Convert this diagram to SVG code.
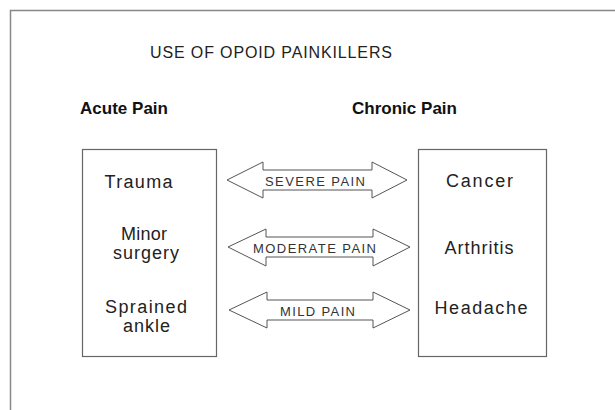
<svg xmlns="http://www.w3.org/2000/svg" width="615" height="410" viewBox="0 0 615 410">
<style>
text{font-family:"Liberation Sans",Arial,sans-serif;fill:#222}
.t{font-size:16px}
.h{font-size:17px;font-weight:bold;fill:#111}
.n{font-size:18px;text-anchor:middle}
.a{font-size:13px;text-anchor:middle;fill:#333}
.box{fill:#fff;stroke:#666;stroke-width:1.2}
.arr{fill:#fff;stroke:#555;stroke-width:1}
</style>
<rect width="615" height="410" fill="#fff"/>
<path d="M10.5 420 V10.5 H625" fill="none" stroke="#888" stroke-width="1.5"/>
<text class="t" x="150" y="58" textLength="242" lengthAdjust="spacing">USE OF OPOID PAINKILLERS</text>
<text class="h" x="80" y="114" textLength="88" lengthAdjust="spacing">Acute Pain</text>
<text class="h" x="352" y="114" textLength="105" lengthAdjust="spacing">Chronic Pain</text>
<g id="acute">
<rect class="box" x="82.5" y="149.5" width="134" height="207"/>
<text class="n" x="138.5" y="188" textLength="68" lengthAdjust="spacing">Trauma</text>
<text class="n" x="144" y="240" textLength="46" lengthAdjust="spacing">Minor</text>
<text class="n" x="146" y="259" textLength="66" lengthAdjust="spacing">surgery</text>
<text class="n" x="146" y="313" textLength="82" lengthAdjust="spacing">Sprained</text>
<text class="n" x="146.5" y="332" textLength="47" lengthAdjust="spacing">ankle</text>
</g>
<g id="chronic">
<rect class="box" x="418.5" y="149.5" width="128" height="207"/>
<text class="n" x="479.5" y="187" textLength="67" lengthAdjust="spacing">Cancer</text>
<text class="n" x="479" y="254" textLength="69" lengthAdjust="spacing">Arthritis</text>
<text class="n" x="481" y="314" textLength="93" lengthAdjust="spacing">Headache</text>
</g>
<g id="connectors">
<g id="severe">
<path class="arr" d="M227 180 L263 162 V170 H372 V162 L407 180 L372 198 V190 H263 V198 Z"/>
<text class="a" x="315" y="186" textLength="100" lengthAdjust="spacing">SEVERE PAIN</text>
</g>
<g id="moderate">
<path class="arr" d="M228 247 L266 229 V237 H373 V229 L410 247 L373 266 V257 H266 V266 Z"/>
<text class="a" x="314.5" y="253" textLength="123" lengthAdjust="spacing">MODERATE PAIN</text>
</g>
<g id="mild">
<path class="arr" d="M229 310 L267 292 V300 H373 V292 L410 310 L373 328 V320 H267 V328 Z"/>
<text class="a" x="317.5" y="316" textLength="75" lengthAdjust="spacing">MILD PAIN</text>
</g>
</g>
</svg>
